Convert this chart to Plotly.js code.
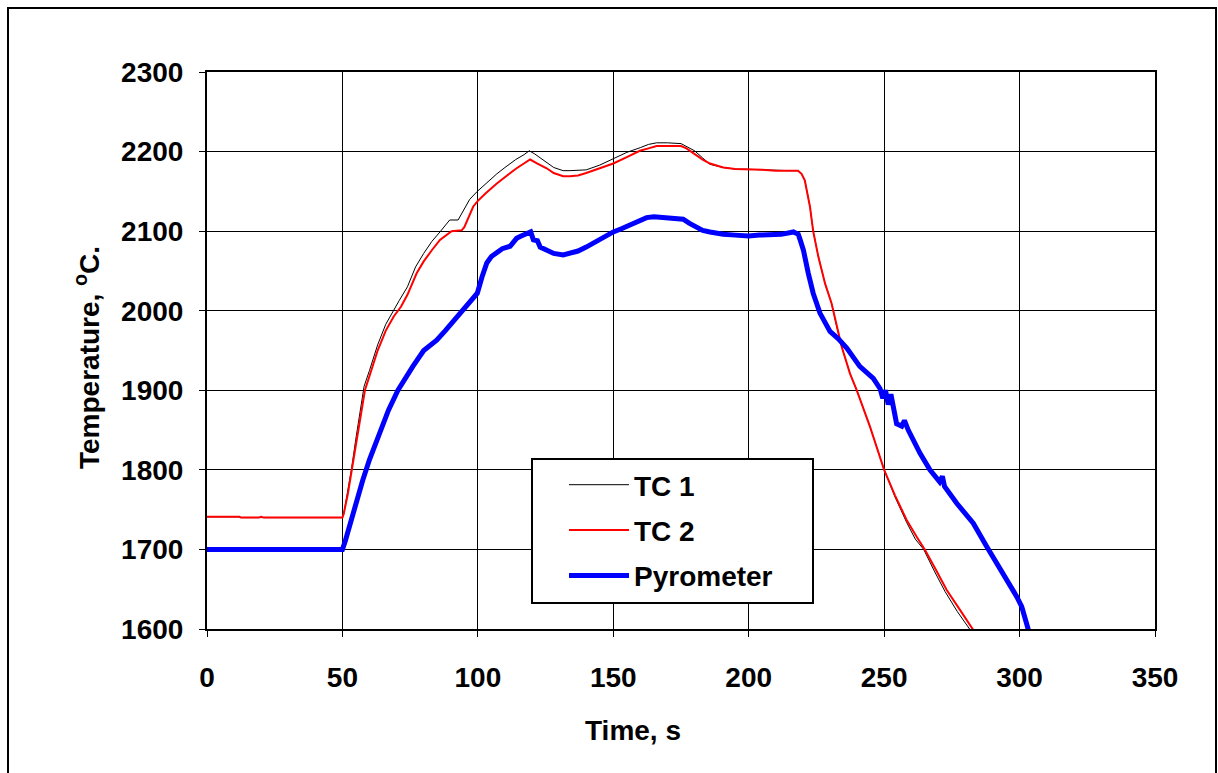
<!DOCTYPE html>
<html>
<head>
<meta charset="utf-8">
<script src="https://cdn.plot.ly/plotly-3.0.1.min.js"></script>
<style>html,body{margin:0;padding:0;background:#fff;}#chart{width:1218px;height:773px;}</style>
</head>
<body>
<div id="chart"></div>
<script>
// ---- Data ----
const seriesNames = ["TC 1", "TC 2", "Pyrometer"];

const tc1Time = [0,12,12.5,50,50.5,52,53.3,55,56.3,58,60,63,66,69,71,74,77,80,83,86,89.6,92.7,95,97,99.8,103,107,110,114,117,119,121,125.4,128,131.5,134,140,145,150,155,160,163,166,170,175,177,180,183,185.7,190.6,195,200,205,210,215,218.2,219.5,220.7,222.6,223.8,225.7,228.2,230.6,232.5,234.3,237.4,239.9,244.8,250,254,258.3,261.5,264.6,268.5,272.5,277,281.7,284];
const tc1Temp = [1741,1741,1740,1740,1745,1775,1800,1840,1870,1905,1925,1957,1983,2002,2013,2030,2055,2072,2087,2099,2114,2114,2128,2140,2150,2160,2172,2180,2190,2196,2201,2197,2187,2180,2176,2176,2177,2183,2191,2199,2205,2209,2211,2211,2210,2206,2201,2192,2184,2180,2178,2177.7,2177,2176,2176,2176,2172,2164,2131,2100,2068,2034,2009,1980,1955,1921,1900,1854,1800,1766,1734,1713,1700,1673,1647,1622,1600,1588];

const tc2Time = [0,12,12.5,19,20,21,50,50.5,52,53.5,55,56.5,58.3,60,63,66,69,71.6,74,77.4,80,83,86,90.3,94,95,98.3,100,103,107,110,114.3,117,119.3,122,125.4,128,131.5,134,137,140,145,150,155,159.8,163,166,170,175,177,179.5,183,185.7,190.6,195,200,205,210,215,218.2,219.5,220.7,222.6,223.8,225.7,228.2,230.6,232.5,234.3,237.4,239.9,244.8,250,254,258.3,262,265,269,273.1,278,282.9,285];
const tc2Temp = [1741,1741,1740,1740,1741,1740,1740,1745,1770,1800,1830,1860,1900,1918,1950,1975,1993,2005,2020,2047,2062,2076,2089,2100,2101,2105,2131,2138,2148,2160,2168,2179,2185,2190,2185,2179,2173,2169,2169,2170,2173,2179,2185,2193,2201,2204,2207,2207,2207,2204,2198,2190,2185,2180,2178,2177.7,2177,2176,2176,2176,2172,2164,2131,2100,2068,2034,2009,1980,1955,1921,1900,1854,1800,1768,1737,1716,1700,1675,1649,1624,1600,1588];

const pyroTime = [0,12,50,51,53,55,57.5,60,62,64,67,70.5,73,76,80,84.8,88,92.2,96,99.8,101.5,103.3,105,107,109,111.9,114.3,116,118.6,119.5,120.5,122,123,125.4,128,131.5,134,137,140,143,146.2,150,153,156.2,159,162.3,165,168,170.9,173,175.8,178,180.7,183,185.7,190.6,195,200,204,207.9,212,216.5,218.3,219,220.2,222,223.8,226.3,230,233,236.2,241,246,248.5,249.5,250.5,251.5,252.5,254.6,256.5,257.5,258.9,263.2,266.9,270.5,271.5,272.3,276.8,282.9,287.8,294,298.9,300.8,302.9,304];
const pyroTemp = [1700,1700,1700,1710,1735,1758,1787,1813,1830,1850,1875,1900,1915,1930,1950,1963,1975,1992,2005,2022,2042,2060,2068,2074,2078,2081,2091,2094,2097,2099,2089,2088,2080,2076,2072,2070,2072,2075,2080,2086,2093,2099,2103,2108,2112,2117,2118,2117,2117,2116,2115,2110,2106,2101,2099,2096,2095,2094,2095,2095,2096,2099,2096,2089,2076,2047,2022,1997,1974,1965,1953,1930,1915,1902,1890,1900,1882,1895,1858,1855,1862,1850,1821,1800,1785,1792,1779,1758,1733,1704,1670,1641,1628,1600,1590];

const xTicks = [0,50,100,150,200,250,300,350];
const yTicks = [1600,1700,1800,1900,2000,2100,2200,2300];

const xTitle = "Time, s";
const yTitle = "Temperature, <sup>o</sup>C.";

// ---- Layout geometry (pixels) ----
const W = 1218, H = 773;
const L = 207, R = 1155, T = 72, B = 629;
const pw = R - L, ph = B - T;
const px = x => (x - L) / pw;
const py = y => (B - y) / ph;

const FONT = {family: 'Arial, "Liberation Sans", sans-serif', size: 28, color: '#000', weight: 'bold'};

const traces = [
  {x: tc1Time, y: tc1Temp, name: seriesNames[0], mode: 'lines', line: {color: '#000000', width: 1, shape: 'linear'}, legendgroup: 'a'},
  {x: tc2Time, y: tc2Temp, name: seriesNames[1], mode: 'lines', line: {color: '#ff0000', width: 2}, legendgroup: 'b'},
  {x: pyroTime, y: pyroTemp, name: seriesNames[2], mode: 'lines', line: {color: '#0000ff', width: 5}, legendgroup: 'c'}
];

const layout = {
  width: W, height: H,
  margin: {l: L, r: W - R, t: T, b: H - B, pad: 0},
  paper_bgcolor: '#fff', plot_bgcolor: '#fff',
  font: FONT,
  showlegend: true,
  legend: {
    x: px(564), y: py(460), xanchor: 'left', yanchor: 'top',
    bgcolor: 'rgba(0,0,0,0)', borderwidth: 0,
    font: FONT, traceorder: 'grouped', tracegroupgap: 6, itemwidth: 60
  },
  xaxis: {
    range: [0, 350], tickvals: xTicks, ticktext: xTicks.map(String),
    showgrid: true, gridcolor: '#000', gridwidth: 1,
    showline: true, linecolor: '#000', linewidth: 2, mirror: true,
    ticks: 'outside', ticklen: 6, tickcolor: '#000', tickwidth: 1,
    ticklabelstandoff: 16, zeroline: false, tickfont: FONT, fixedrange: true
  },
  yaxis: {
    range: [1600, 2300], tickvals: yTicks, ticktext: yTicks.map(String),
    showgrid: true, gridcolor: '#000', gridwidth: 1,
    showline: true, linecolor: '#000', linewidth: 2, mirror: true,
    ticks: 'outside', ticklen: 6, tickcolor: '#000', tickwidth: 1,
    ticklabelstandoff: 10, zeroline: false, tickfont: FONT, fixedrange: true
  },
  annotations: [
    {text: xTitle, xref: 'paper', yref: 'paper', x: px(633), y: py(730), xanchor: 'center', yanchor: 'middle', showarrow: false, font: FONT},
    {text: yTitle, xref: 'paper', yref: 'paper', x: px(87), y: py(357), xanchor: 'center', yanchor: 'middle', textangle: -90, showarrow: false, font: FONT}
  ],
  shapes: [
    {type: 'rect', xref: 'paper', yref: 'paper', x0: px(8), x1: px(1216), y0: py(8), y1: py(790), line: {color: '#000', width: 2}, fillcolor: 'rgba(0,0,0,0)', layer: 'below'},
    {type: 'rect', xref: 'paper', yref: 'paper', x0: px(532), x1: px(813), y0: py(459), y1: py(603), line: {color: '#000', width: 2}, fillcolor: '#fff', layer: 'above'}
  ]
};

Plotly.newPlot('chart', traces, layout, {staticPlot: true, displayModeBar: false});
</script>
</body>
</html>
